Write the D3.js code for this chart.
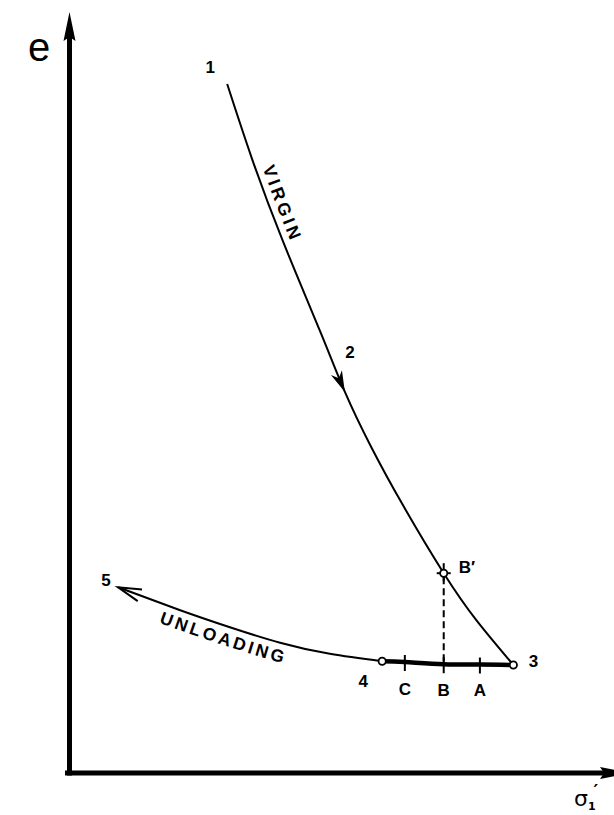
<!DOCTYPE html>
<html>
<head>
<meta charset="utf-8">
<script src="https://cdn.jsdelivr.net/npm/d3@7"></script>
<style>
  html, body { margin: 0; padding: 0; background: #fff; }
  svg { display: block; overflow: hidden; }
  .lbl { font-family: "Liberation Sans", Arial, sans-serif; font-weight: bold; font-size: 17px; fill: #000; }
  .word { font-family: "Liberation Sans", Arial, sans-serif; font-weight: bold; font-size: 17.5px; fill: #000; }
</style>
</head>
<body>
<script>
// Virgin compression curve (effective stress σ'1 vs void ratio e), relative units
const sigmaVirgin = [29.2, 33.8, 39.5, 46.4, 51.0, 55.7, 61.9, 69.3, 75.3, 82.2];
const eVirgin     = [93.1, 83.0, 71.9, 59.7, 51.5, 44.3, 36.0, 27.0, 20.7, 14.6];

// Unloading curve, from point 3 back to point 5
const sigmaUnload = [82.2, 76.0, 69.3, 62.1, 57.9, 48.2, 39.0, 29.7, 20.5, 9.0];
const eUnload     = [14.6, 14.66, 14.7, 15.0, 15.1, 16.1, 17.6, 19.7, 22.0, 25.1];

// Named points: [label, curve, index]
const pointLabels = [
  ["1", "virgin", 0],
  ["2", "virgin", 4],
  ["3", "unload", 0],
  ["4", "unload", 4],
  ["5", "unload", 9]
];
const tickLabels = [["A", 1], ["B", 2], ["C", 3]];   // index on unloading curve
const bPrimeIndex = 7;                                 // index on virgin curve
const axisLabelY = "e";
const curveNames = { virgin: "VIRGIN", unload: "UNLOADING" };

const W = 614, H = 815;
const svg = d3.select("body").append("svg").attr("width", W).attr("height", H);

const x = d3.scaleLinear().domain([0, 100]).range([69.5, 609.5]);
const y = d3.scaleLinear().domain([0, 100]).range([773, 33]);

const virgin = sigmaVirgin.map((s, i) => [x(s), y(eVirgin[i])]);
const unload = sigmaUnload.map((s, i) => [x(s), y(eUnload[i])]);
const curves = { virgin, unload };

const line = d3.line().curve(d3.curveNatural);

// ---- axes ----
const x0 = x(0), y0 = y(0);
svg.append("line").attr("x1", x0).attr("x2", x0).attr("y1", y0 + 2.5).attr("y2", 30)
  .attr("stroke", "#000").attr("stroke-width", 5);
svg.append("line").attr("x1", x0 - 4.5).attr("x2", 605).attr("y1", y0).attr("y2", y0)
  .attr("stroke", "#000").attr("stroke-width", 5);
// arrowheads on axes
svg.append("path")
  .attr("d", `M${x0},12 L${x0 + 6},41 L${x0},37 L${x0 - 6},41 Z`).attr("fill", "#000");
svg.append("path")
  .attr("d", `M630,${y0} L600,${y0 - 6} L604,${y0} L600,${y0 + 6} Z`).attr("fill", "#000");

svg.append("text").attr("x", 28).attr("y", 61)
  .style("font-family", "'Liberation Sans', Arial, sans-serif").style("font-size", "40px")
  .text(axisLabelY);

const sig = svg.append("text").attr("x", 574).attr("y", 806)
  .style("font-family", "'DejaVu Sans', sans-serif").style("font-size", "22px");
sig.append("tspan").text("σ");
sig.append("tspan").attr("dy", 4).style("font-size", "11px").style("font-weight", "bold").text("1");
sig.append("tspan").attr("dy", -13).attr("dx", -2).style("font-size", "18px").style("font-weight", "bold").text("′");

// ---- curves ----
const virginPath = svg.append("path").attr("d", line(virgin))
  .attr("fill", "none").attr("stroke", "#000").attr("stroke-width", 2);
const unloadPath = svg.append("path").attr("d", line(unload.slice(4)))
  .attr("fill", "none").attr("stroke", "#000").attr("stroke-width", 2);
// heavy segment between 3 and 4
svg.append("path").attr("d", line(unload.slice(0, 5)))
  .attr("fill", "none").attr("stroke", "#000").attr("stroke-width", 4.5)
  .attr("stroke-linecap", "round");

// ---- dashed projection B' -> B ----
const bp = virgin[bPrimeIndex];
const bb = unload[2];
svg.append("line").attr("x1", bp[0]).attr("x2", bp[0]).attr("y1", bp[1] + 4).attr("y2", bb[1])
  .attr("stroke", "#000").attr("stroke-width", 2).attr("stroke-dasharray", "7,4");

// ---- ticks A, B, C ----
tickLabels.forEach(([t, i]) => {
  const p = unload[i];
  svg.append("line").attr("x1", p[0]).attr("x2", p[0]).attr("y1", p[1] - 7).attr("y2", p[1] + 9)
    .attr("stroke", "#000").attr("stroke-width", 2);
  svg.append("text").attr("class", "lbl").attr("x", p[0]).attr("y", p[1] + 30 + i)
    .attr("text-anchor", "middle").text(t);
});

// ---- B' crosshair marker ----
svg.append("line").attr("x1", bp[0] - 7).attr("x2", bp[0] + 7).attr("y1", bp[1]).attr("y2", bp[1])
  .attr("stroke", "#000").attr("stroke-width", 2);
svg.append("line").attr("x1", bp[0]).attr("x2", bp[0]).attr("y1", bp[1] - 10).attr("y2", bp[1] + 8)
  .attr("stroke", "#000").attr("stroke-width", 2);
svg.append("text").attr("class", "lbl").attr("x", bp[0] + 15).attr("y", bp[1]).text("B′");

// ---- open circles at 3, 4, B' ----
[unload[0], unload[4], bp].forEach(p => {
  svg.append("circle").attr("cx", p[0]).attr("cy", p[1]).attr("r", 3.6)
    .attr("fill", "#fff").attr("stroke", "#000").attr("stroke-width", 1.8);
});

// ---- arrowheads on curves ----
function tangentAt(pts, i) {
  const a = pts[Math.max(0, i - 1)], b = pts[Math.min(pts.length - 1, i + 1)];
  const dx = b[0] - a[0], dy = b[1] - a[1], l = Math.hypot(dx, dy);
  return [dx / l, dy / l];
}
// filled arrow at point 2 along the virgin curve
{
  const tip = virgin[4], t = tangentAt(virgin, 4), n = [-t[1], t[0]];
  const L = 21, hw = 6, notch = 15;
  const b1 = [tip[0] - t[0] * L + n[0] * hw, tip[1] - t[1] * L + n[1] * hw];
  const b2 = [tip[0] - t[0] * L - n[0] * hw, tip[1] - t[1] * L - n[1] * hw];
  const nc = [tip[0] - t[0] * notch, tip[1] - t[1] * notch];
  svg.append("path").attr("d", `M${tip}L${b1}L${nc}L${b2}Z`).attr("fill", "#000");
}
// open arrow at point 5 on the unloading curve
{
  const last = unload.length - 1;
  const tip = unload[last];
  const prev = unload[last - 1];
  let d = [tip[0] - prev[0], tip[1] - prev[1]];
  const l = Math.hypot(d[0], d[1]); d = [d[0] / l, d[1] / l];
  const L = 24, ang = 15 * Math.PI / 180;
  const rot = (v, a) => [v[0] * Math.cos(a) - v[1] * Math.sin(a), v[0] * Math.sin(a) + v[1] * Math.cos(a)];
  const back = [-d[0], -d[1]];
  const r1 = rot(back, ang), r2 = rot(back, -ang);
  svg.append("path")
    .attr("d", `M${tip[0] + r1[0] * L},${tip[1] + r1[1] * L}L${tip}L${tip[0] + r2[0] * L},${tip[1] + r2[1] * L}`)
    .attr("fill", "none").attr("stroke", "#000").attr("stroke-width", 2).attr("stroke-linejoin", "miter");
}

// ---- point numbers ----
const numOffsets = { "1": [-17, -11], "2": [5, -34], "3": [20, 2], "4": [-19, 26], "5": [-12, -1] };
pointLabels.forEach(([t, c, i]) => {
  const p = curves[c][i], o = numOffsets[t];
  svg.append("text").attr("class", "lbl").attr("x", p[0] + o[0]).attr("y", p[1] + o[1])
    .attr("text-anchor", "middle").text(t);
});

// ---- curve names set along the curves ----
// Builds a path parallel to a curve (offset along its normal) around a chosen spot.
function parallelPath(pathNode, centerLen, halfSpan, dist) {
  const total = pathNode.getTotalLength();
  const pts = [];
  for (let s = Math.max(0, centerLen - halfSpan); s <= Math.min(total, centerLen + halfSpan); s += 3) {
    const a = pathNode.getPointAtLength(Math.max(0, s - 2));
    const b = pathNode.getPointAtLength(Math.min(total, s + 2));
    const p = pathNode.getPointAtLength(s);
    const dx = b.x - a.x, dy = b.y - a.y, l = Math.hypot(dx, dy) || 1;
    pts.push([p.x - dy / l * dist, p.y + dx / l * dist]);
  }
  return d3.line().curve(d3.curveBasis)(pts);
}
function lengthWhere(pathNode, fn) {
  const total = pathNode.getTotalLength();
  let best = 0, bestV = Infinity;
  for (let s = 0; s <= total; s += 1) {
    const v = Math.abs(fn(pathNode.getPointAtLength(s)));
    if (v < bestV) { bestV = v; best = s; }
  }
  return best;
}

const defs = svg.append("defs");

// VIRGIN: reads downward, to the right of the virgin curve
{
  const node = virginPath.node();
  const c = lengthWhere(node, p => p.y - y(76.3));
  defs.append("path").attr("id", "virginText").attr("d", parallelPath(node, c, 80, -7));
  svg.append("text").attr("class", "word").style("letter-spacing", "3.5px")
    .append("textPath").attr("href", "#virginText").attr("startOffset", "50%")
    .attr("text-anchor", "middle").text(curveNames.virgin);
}
// UNLOADING: reads left to right, below the unloading curve
{
  const rev = svg.append("path").attr("d", line(unload.slice(4).reverse()))
    .attr("fill", "none").attr("stroke", "none");
  const node = rev.node();
  const c = lengthWhere(node, p => p.x - x(29.3));
  defs.append("path").attr("id", "unloadText").attr("d", parallelPath(node, c, 95, 19));
  svg.append("text").attr("class", "word").style("letter-spacing", "3px")
    .append("textPath").attr("href", "#unloadText").attr("startOffset", "50%")
    .attr("text-anchor", "middle").text(curveNames.unload);
  rev.remove();
}
</script>
</body>
</html>
